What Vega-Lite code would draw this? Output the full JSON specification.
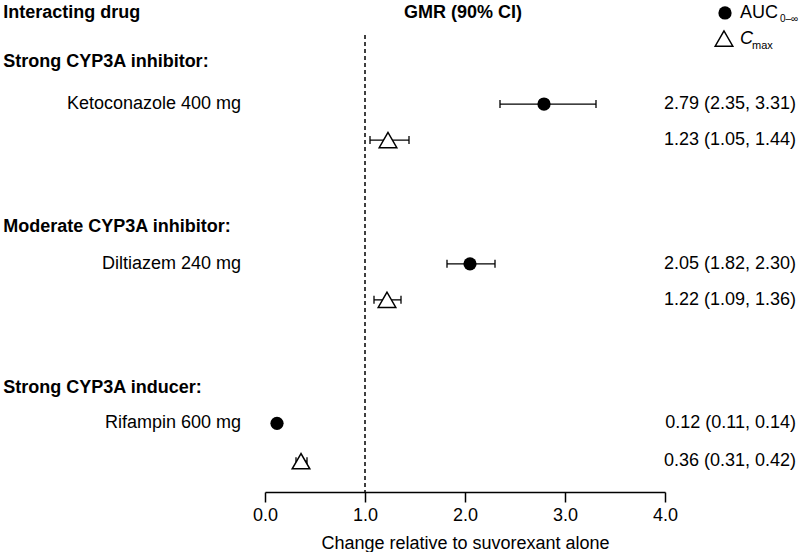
{
  "$schema": "https://vega.github.io/schema/vega-lite/v6.json",
  "padding": 0,
  "spacing": 0,
  "bounds": "flush",
  "background": "white",
  "config": {
    "view": {"stroke": null},
    "font": "Liberation Sans",
    "text": {"font": "Liberation Sans", "color": "black"},
    "axisX": {
      "grid": false,
      "labelFlush": false,
      "domainColor": "black",
      "domainWidth": 1.5,
      "tickColor": "black",
      "tickWidth": 1.5,
      "tickSize": 10,
      "labelFont": "Liberation Sans",
      "labelFontSize": 18,
      "labelColor": "black",
      "labelPadding": 4,
      "titleFont": "Liberation Sans",
      "titleFontSize": 18,
      "titleFontWeight": "normal",
      "titleColor": "black",
      "titlePadding": 10
    }
  },
  "datasets": {
    "est": [
      {"drug": "Ketoconazole 400 mg", "param": "AUC", "gmr": 2.79, "lo": 2.35, "hi": 3.31, "row": 2.89, "txt": "2.79 (2.35, 3.31)"},
      {"drug": "Ketoconazole 400 mg", "param": "Cmax", "gmr": 1.23, "lo": 1.05, "hi": 1.44, "row": 3.89, "txt": "1.23 (1.05, 1.44)"},
      {"drug": "Diltiazem 240 mg", "param": "AUC", "gmr": 2.05, "lo": 1.82, "hi": 2.30, "row": 7.33, "txt": "2.05 (1.82, 2.30)"},
      {"drug": "Diltiazem 240 mg", "param": "Cmax", "gmr": 1.22, "lo": 1.09, "hi": 1.36, "row": 8.33, "txt": "1.22 (1.09, 1.36)"},
      {"drug": "Rifampin 600 mg", "param": "AUC", "gmr": 0.12, "lo": 0.11, "hi": 0.14, "row": 11.76, "txt": "0.12 (0.11, 0.14)"},
      {"drug": "Rifampin 600 mg", "param": "Cmax", "gmr": 0.36, "lo": 0.31, "hi": 0.42, "row": 12.81, "txt": "0.36 (0.31, 0.42)"}
    ],
    "labels": [
      {"text": "Interacting drug", "row": 0.36, "kind": "head"},
      {"text": "GMR (90% CI)", "row": 0.36, "kind": "col"},
      {"text": "Strong CYP3A inhibitor:", "row": 1.71, "kind": "head"},
      {"text": "Ketoconazole 400 mg", "row": 2.89, "kind": "drug"},
      {"text": "Moderate CYP3A inhibitor:", "row": 6.31, "kind": "head"},
      {"text": "Diltiazem 240 mg", "row": 7.33, "kind": "drug"},
      {"text": "Strong CYP3A inducer:", "row": 10.78, "kind": "head"},
      {"text": "Rifampin 600 mg", "row": 11.76, "kind": "drug"}
    ],
    "legend": [
      {"param": "AUC", "row": 0.36},
      {"param": "Cmax", "row": 1.07}
    ],
    "ref": [{"gmr": 1.0}]
  },
  "hconcat": [
    {
      "width": 265,
      "height": 492,
      "data": {"name": "labels"},
      "layer": [
        {
          "transform": [{"filter": "datum.kind === 'head'"}],
          "mark": {"type": "text", "align": "left", "baseline": "middle", "fontSize": 18, "fontWeight": "bold"},
          "encoding": {
            "x": {"datum": -2.617, "type": "quantitative", "scale": {"domain": [-2.65, 0], "nice": false, "zero": false}, "axis": null},
            "y": {"field": "row", "type": "quantitative", "scale": {"domain": [0, 13.667], "nice": false, "reverse": true}, "axis": null},
            "text": {"field": "text"}
          }
        },
        {
          "transform": [{"filter": "datum.kind === 'drug'"}],
          "mark": {"type": "text", "align": "right", "baseline": "middle", "fontSize": 18},
          "encoding": {
            "x": {"datum": -0.24, "type": "quantitative", "scale": {"domain": [-2.65, 0], "nice": false, "zero": false}, "axis": null},
            "y": {"field": "row", "type": "quantitative", "scale": {"domain": [0, 13.667], "nice": false, "reverse": true}, "axis": null},
            "text": {"field": "text"}
          }
        }
      ]
    },
    {
      "width": 400,
      "height": 492,
      "layer": [
        {
          "data": {"name": "ref"},
          "mark": {"type": "rule", "strokeDash": [4, 3], "strokeWidth": 1.5, "color": "black"},
          "encoding": {
            "x": {"field": "gmr", "type": "quantitative", "scale": {"domain": [0, 4], "nice": false}, "title": "Change relative to suvorexant alone", "axis": {"values": [0, 1, 2, 3, 4], "format": ".1f"}},
            "y": {"datum": 0.97, "type": "quantitative", "scale": {"domain": [0, 13.667], "nice": false, "reverse": true}, "axis": null},
            "y2": {"datum": 13.667}
          }
        },
        {
          "data": {"name": "est"},
          "mark": {"type": "rule", "strokeWidth": 1.3, "color": "black"},
          "encoding": {
            "x": {"field": "lo", "type": "quantitative", "title": "Change relative to suvorexant alone", "axis": {"values": [0, 1, 2, 3, 4], "format": ".1f"}},
            "x2": {"field": "hi"},
            "y": {"field": "row", "type": "quantitative", "axis": null}
          }
        },
        {
          "data": {"name": "est"},
          "mark": {"type": "tick", "orient": "vertical", "size": 8, "thickness": 1.3, "color": "black", "opacity": 1},
          "encoding": {
            "x": {"field": "lo", "type": "quantitative", "title": "Change relative to suvorexant alone", "axis": {"values": [0, 1, 2, 3, 4], "format": ".1f"}},
            "y": {"field": "row", "type": "quantitative", "axis": null}
          }
        },
        {
          "data": {"name": "est"},
          "mark": {"type": "tick", "orient": "vertical", "size": 8, "thickness": 1.3, "color": "black", "opacity": 1},
          "encoding": {
            "x": {"field": "hi", "type": "quantitative", "title": "Change relative to suvorexant alone", "axis": {"values": [0, 1, 2, 3, 4], "format": ".1f"}},
            "y": {"field": "row", "type": "quantitative", "axis": null}
          }
        },
        {
          "data": {"name": "est"},
          "transform": [{"filter": "datum.param === 'AUC'"}],
          "mark": {"type": "point", "shape": "circle", "filled": true, "color": "black", "size": 175, "opacity": 1, "strokeWidth": 0},
          "encoding": {
            "x": {"field": "gmr", "type": "quantitative", "title": "Change relative to suvorexant alone", "axis": {"values": [0, 1, 2, 3, 4], "format": ".1f"}},
            "y": {"field": "row", "type": "quantitative", "axis": null}
          }
        },
        {
          "data": {"name": "est"},
          "transform": [{"filter": "datum.param === 'Cmax'"}],
          "mark": {"type": "point", "shape": "triangle-up", "filled": true, "fill": "white", "stroke": "black", "strokeWidth": 1.5, "size": 310, "opacity": 1},
          "encoding": {
            "x": {"field": "gmr", "type": "quantitative", "title": "Change relative to suvorexant alone", "axis": {"values": [0, 1, 2, 3, 4], "format": ".1f"}},
            "y": {"field": "row", "type": "quantitative", "axis": null}
          }
        },
        {
          "data": {"name": "labels"},
          "transform": [{"filter": "datum.kind === 'col'"}],
          "mark": {"type": "text", "align": "center", "baseline": "middle", "fontSize": 18, "fontWeight": "bold"},
          "encoding": {
            "x": {"datum": 1.98, "type": "quantitative", "title": "Change relative to suvorexant alone", "axis": {"values": [0, 1, 2, 3, 4], "format": ".1f"}},
            "y": {"field": "row", "type": "quantitative", "axis": null},
            "text": {"field": "text"}
          }
        }
      ]
    },
    {
      "width": 135,
      "height": 492,
      "layer": [
        {
          "data": {"name": "est"},
          "mark": {"type": "text", "align": "right", "baseline": "middle", "fontSize": 18},
          "encoding": {
            "x": {"datum": 5.31, "type": "quantitative", "scale": {"domain": [4, 5.35], "nice": false, "zero": false}, "axis": null},
            "y": {"field": "row", "type": "quantitative", "scale": {"domain": [0, 13.667], "nice": false, "reverse": true}, "axis": null},
            "text": {"field": "txt"}
          }
        },
        {
          "data": {"name": "legend"},
          "transform": [{"filter": "datum.param === 'AUC'"}],
          "mark": {"type": "point", "shape": "circle", "filled": true, "color": "black", "size": 175, "opacity": 1, "strokeWidth": 0},
          "encoding": {
            "x": {"datum": 4.6, "type": "quantitative", "axis": null},
            "y": {"field": "row", "type": "quantitative", "axis": null}
          }
        },
        {
          "data": {"name": "legend"},
          "transform": [{"filter": "datum.param === 'Cmax'"}],
          "mark": {"type": "point", "shape": "triangle-up", "filled": true, "fill": "white", "stroke": "black", "strokeWidth": 1.5, "size": 310, "opacity": 1},
          "encoding": {
            "x": {"datum": 4.59, "type": "quantitative", "axis": null},
            "y": {"field": "row", "type": "quantitative", "axis": null}
          }
        },
        {
          "data": {"name": "legend"},
          "transform": [{"filter": "datum.param === 'AUC'"}],
          "mark": {"type": "text", "align": "left", "baseline": "middle", "fontSize": 18, "text": "AUC"},
          "encoding": {
            "x": {"datum": 4.75, "type": "quantitative", "axis": null},
            "y": {"field": "row", "type": "quantitative", "axis": null}
          }
        },
        {
          "data": {"name": "legend"},
          "transform": [{"filter": "datum.param === 'AUC'"}],
          "mark": {"type": "text", "align": "left", "baseline": "middle", "fontSize": 10, "dy": 6, "text": "0–∞"},
          "encoding": {
            "x": {"datum": 5.15, "type": "quantitative", "axis": null},
            "y": {"field": "row", "type": "quantitative", "axis": null}
          }
        },
        {
          "data": {"name": "legend"},
          "transform": [{"filter": "datum.param === 'Cmax'"}],
          "mark": {"type": "text", "align": "left", "baseline": "middle", "fontSize": 18, "fontStyle": "italic", "text": "C"},
          "encoding": {
            "x": {"datum": 4.75, "type": "quantitative", "axis": null},
            "y": {"field": "row", "type": "quantitative", "axis": null}
          }
        },
        {
          "data": {"name": "legend"},
          "transform": [{"filter": "datum.param === 'Cmax'"}],
          "mark": {"type": "text", "align": "left", "baseline": "middle", "fontSize": 11, "dy": 7, "text": "max"},
          "encoding": {
            "x": {"datum": 4.87, "type": "quantitative", "axis": null},
            "y": {"field": "row", "type": "quantitative", "axis": null}
          }
        }
      ]
    }
  ]
}
